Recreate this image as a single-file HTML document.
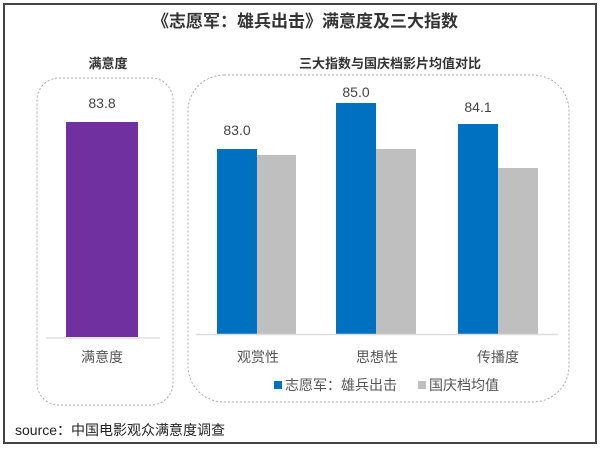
<!DOCTYPE html>
<html><head><meta charset="utf-8"><style>
body{margin:0;background:#fff;}
</style></head><body>
<svg width="600" height="448" xmlns="http://www.w3.org/2000/svg" font-family="Liberation Sans, Noto Sans CJK SC, sans-serif">
<rect x="4" y="4" width="592" height="439" fill="#fff" stroke="#444" stroke-width="2"/>
<text x="305" y="27" text-anchor="middle" font-size="17" font-weight="bold" fill="#333">《志愿军：雄兵出击》满意度及三大指数</text>
<text x="108" y="68" text-anchor="middle" font-size="13" font-weight="bold" fill="#333">满意度</text>
<text x="390" y="68" text-anchor="middle" font-size="13" font-weight="bold" fill="#333">三大指数与国庆档影片均值对比</text>
<rect x="37" y="78" width="136" height="327" rx="22" fill="none" stroke="#aaa" stroke-dasharray="2,2"/>
<rect x="188" y="75" width="381" height="327" rx="36" fill="none" stroke="#aaa" stroke-dasharray="2,2"/>
<rect x="66" y="122" width="72" height="215" fill="#7030a0"/>
<line x1="46" y1="338" x2="160" y2="338" stroke="#ddd" stroke-width="1.5"/>
<text x="102" y="108" text-anchor="middle" font-size="14" fill="#444">83.8</text>
<text x="102" y="362" text-anchor="middle" font-size="14" fill="#555">满意度</text>
<g fill="#0070c0">
<rect x="217" y="149" width="40" height="185"/>
<rect x="336" y="103" width="40" height="231"/>
<rect x="458" y="124" width="40" height="210"/>
</g>
<g fill="#bfbfbf">
<rect x="257" y="155" width="39" height="179"/>
<rect x="376" y="149" width="40" height="185"/>
<rect x="498" y="168" width="40" height="166"/>
</g>
<line x1="196" y1="334.5" x2="558" y2="334.5" stroke="#ddd" stroke-width="1.5"/>
<g font-size="14" fill="#444" text-anchor="middle">
<text x="237" y="135">83.0</text>
<text x="356" y="97">85.0</text>
<text x="478" y="112">84.1</text>
</g>
<g font-size="14" fill="#555" text-anchor="middle">
<text x="258" y="362">观赏性</text>
<text x="377" y="362">思想性</text>
<text x="498" y="362">传播度</text>
</g>
<rect x="274" y="381" width="8" height="8" fill="#0070c0"/>
<text x="285" y="390" font-size="14" fill="#555">志愿军：雄兵出击</text>
<rect x="418" y="381" width="8" height="8" fill="#bfbfbf"/>
<text x="429" y="390" font-size="14" fill="#555">国庆档均值</text>
<text x="15" y="435" font-size="14" fill="#222">source：中国电影观众满意度调查</text>
</svg>
</body></html>
